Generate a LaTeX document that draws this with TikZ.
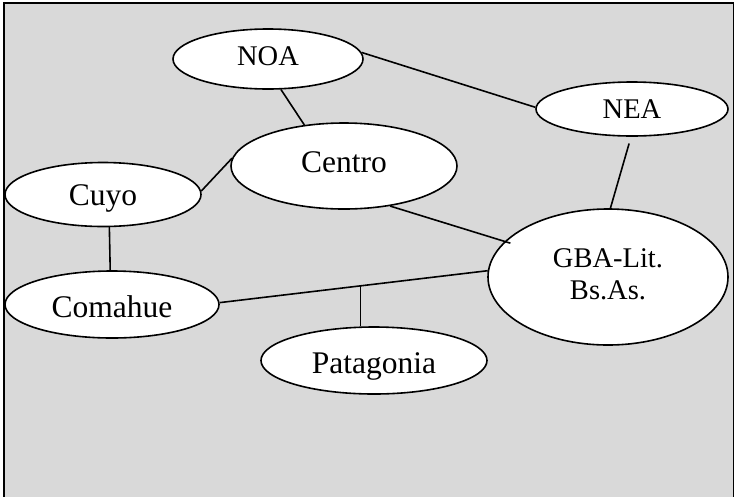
\documentclass[tikz,border=0pt]{standalone}
\usepackage{fontspec}
\setmainfont{Liberation Serif}
\usetikzlibrary{shapes.geometric,calc}
\definecolor{bggray}{HTML}{D9D9D9}
\tikzset{
  region/.style={ellipse, draw=black, fill=white, line width=1.6pt, inner sep=0pt, align=center},
  big/.style={font=\fontsize{31.5}{32}\selectfont, text height=20.9pt, text depth=0pt},
  small/.style={font=\fontsize{28.5}{32}\selectfont, text height=18.9pt, text depth=0pt},
  twoline/.style={font=\fontsize{28.5}{32}\selectfont},
  link/.style={line width=1.6pt}
}
\begin{document}
\begin{tikzpicture}[x=1pt,y=-1pt]
\useasboundingbox (0,0) rectangle (735,496);
\draw[fill=bggray, line width=1.6pt] (4,3) rectangle (733.5,500);
\node[region, small, minimum width=190pt, minimum height=60pt] (NOA) at (268,59) {\raisebox{2.5pt}{NOA}};
\node[region, small, minimum width=192pt, minimum height=54pt] (NEA) at (632,109) {NEA};
\node[region, big, minimum width=226pt, minimum height=86pt] (Centro) at (344,166) {\raisebox{3.5pt}{Centro}};
\node[region, big, minimum width=196pt, minimum height=64pt] (Cuyo) at (103,194.5) {\raisebox{-0.5pt}{Cuyo}};
\node[region, big, minimum width=214pt, minimum height=67pt] (Comahue) at (112,304.5) {\raisebox{-3pt}{Comahue}};
\node[region, big, minimum width=226pt, minimum height=67pt] (Patagonia) at (374,360.5) {\raisebox{-2.5pt}{Patagonia}};
\node[region, twoline, minimum width=240pt, minimum height=136pt] (GBA) at (608,277) {\raisebox{4pt}{\begin{tabular}{@{}c@{}}GBA-Lit.\\Bs.As.\end{tabular}}};
\draw[link] (NOA.4) -- (NEA.179);
\draw[link] (NOA.293) -- (Centro.134);
\draw[link] (Cuyo.2) -- (Centro.176);
\draw[link] (Cuyo.281.6) -- (Comahue.93.5);
\draw[link, shorten <=7pt] (NEA.268) -- (GBA.88);
\draw[link, shorten >=-6pt] (Centro.319) -- (GBA.161);
\draw[link] (Comahue.1.6) -- (GBA.177.6);
\coordinate (pj) at ($(Comahue.1.6)!0.526!(GBA.177.6)$);
\draw[link] (pj) -- (pj |- Patagonia.north);
\end{tikzpicture}
\end{document}
